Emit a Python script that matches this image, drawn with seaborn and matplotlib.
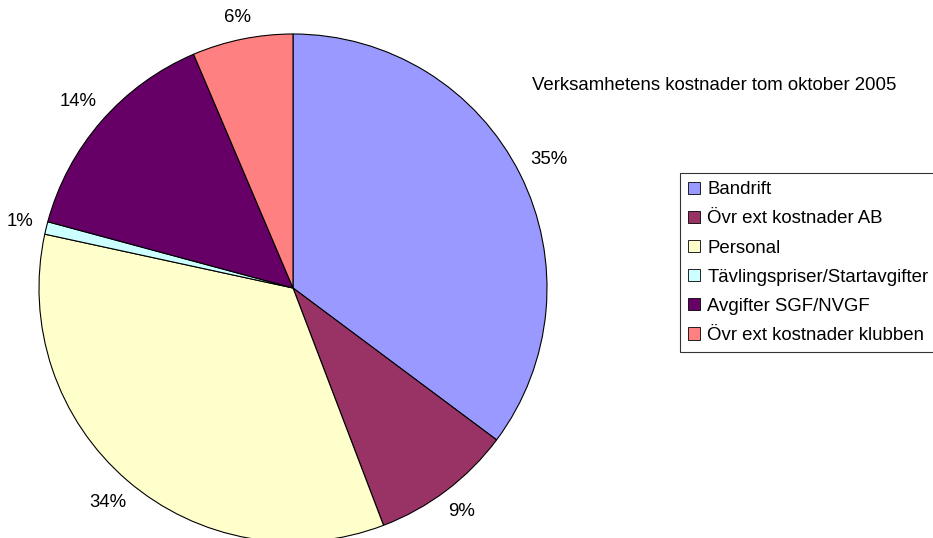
import matplotlib
matplotlib.use("Agg")
import matplotlib.pyplot as plt
from matplotlib.patches import Patch
import numpy as np
import seaborn as sns

# data
categories = ["Bandrift", "Övr ext kostnader AB", "Personal",
              "Tävlingspriser/Startavgifter", "Avgifter SGF/NVGF",
              "Övr ext kostnader klubben"]
shares = [35.2, 9.0, 34.2, 0.8, 14.4, 6.4]
colors = ["#9999FF", "#993366", "#FFFFCC", "#CCFFFF", "#660066", "#FF8080"]
title = "Verksamhetens kostnader tom oktober 2005"

sns.set_theme(style="white")
plt.rcParams["font.family"] = ["Liberation Sans", "DejaVu Sans"]
plt.rcParams["text.color"] = "black"
pal = sns.color_palette(colors)
FS = 13.4

W, H = 933, 538
fig = plt.figure(figsize=(W / 100, H / 100), dpi=100)
ax = fig.add_axes([0, 0, 1, 1])

cx, cy, R = 293, H - 288, 254
wedges, texts, autotexts = ax.pie(
    shares, colors=pal, startangle=90, counterclock=False,
    center=(cx, cy), radius=R, frame=True,
    autopct="%.0f%%", pctdistance=1.1,
    wedgeprops=dict(edgecolor="black", linewidth=0.8),
    textprops=dict(fontsize=FS, color="black"))
ax.set_xlim(0, W)
ax.set_ylim(0, H)
ax.set_aspect("equal")
ax.axis("off")

# put the percent labels just outside the rim, like Excel does
fig.canvas.draw()
rend = fig.canvas.get_renderer()
for w, t in zip(wedges, autotexts):
    th = np.deg2rad((w.theta1 + w.theta2) / 2)
    bb = t.get_window_extent(rend)
    ext = abs(np.cos(th)) * bb.width / 2 + abs(np.sin(th)) * 7
    d = R + 12 + ext
    t.set_position((cx + d * np.cos(th), cy + d * np.sin(th)))
    t.set_ha("center")
    t.set_va("center")

fig.text(532 / W, 1 - 86 / H, title, fontsize=FS, ha="left", va="center")

handles = [Patch(facecolor=c, edgecolor="black", linewidth=0.6) for c in pal]
leg = fig.legend(handles, categories, loc="upper left",
                 bbox_to_anchor=(680 / W, 1 - 173 / H),
                 fontsize=FS, frameon=True, fancybox=False,
                 handlelength=0.65, handleheight=0.65, handletextpad=0.37,
                 labelspacing=0.65, borderpad=0.45, borderaxespad=0)
leg.get_frame().set_edgecolor("black")
leg.get_frame().set_linewidth(0.8)

fig.savefig("out.png", dpi=100)
